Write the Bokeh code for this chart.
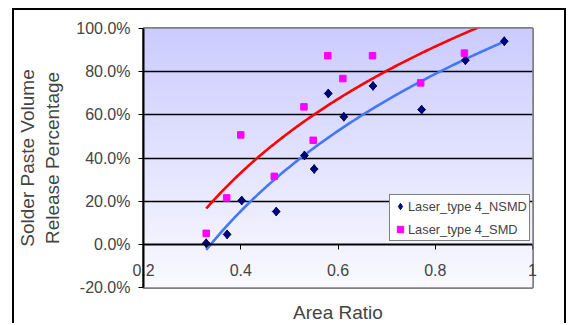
import numpy as np
from bokeh.plotting import figure
from bokeh.models import (FixedTicker, NumeralTickFormatter, Legend, LegendItem, LinearAxis)
from bokeh.embed import file_html
from bokeh.resources import INLINE

# ---- data ----
nsmd_area_ratio = [0.329, 0.372, 0.402, 0.473, 0.531, 0.551, 0.580, 0.612, 0.672, 0.772, 0.862, 0.942]
nsmd_release_pct = [0.5, 4.6, 20.3, 15.2, 41.2, 34.9, 69.9, 59.1, 73.4, 62.4, 85.3, 94.1]
smd_area_ratio = [0.329, 0.371, 0.400, 0.469, 0.530, 0.549, 0.579, 0.610, 0.671, 0.770, 0.860]
smd_release_pct = [5.1, 21.5, 50.7, 31.5, 63.7, 48.2, 87.4, 76.8, 87.4, 74.8, 88.6]
series_names = ["Laser_type 4_NSMD", "Laser_type 4_SMD"]
x_ticks = [0.2, 0.4, 0.6, 0.8, 1.0]
y_ticks_pct = [-20, 0, 20, 40, 60, 80, 100]
x_title = "Area Ratio"
y_title = "Solder Paste Volume\nRelease Percentage"

FONT = "Liberation Sans"

nsmd_y = [v / 100 for v in nsmd_release_pct]
smd_y = [v / 100 for v in smd_release_pct]

# chart area: black frame at left/top/right, placed by CSS margin + border
p = figure(width=554, height=315, output_backend="svg", toolbar_location=None,
           x_range=(0.2, 1.0), y_range=(-0.2, 1.0),
           min_border_left=128, min_border_right=36, min_border_top=18, min_border_bottom=37,
           background_fill_color="white", border_fill_color="white",
           margin=(8, 4, 0, 12),
           styles={"border-left": "2px solid black", "border-top": "2px solid black",
                   "border-right": "2px solid black", "border-bottom": "none"})

# gradient plot-area background
n = 120
top = np.array([204, 204, 255], dtype=float)
bot = np.array([250, 250, 255], dtype=float)
t = np.linspace(0, 1, n)[:, None]  # row 0 = bottom
cols = bot * (1 - t) + top * t
img = np.zeros((n, 1), dtype=np.uint32)
view = img.view(dtype=np.uint8).reshape((n, 1, 4))
view[:, 0, 0] = cols[:, 0]
view[:, 0, 1] = cols[:, 1]
view[:, 0, 2] = cols[:, 2]
view[:, 0, 3] = 255
p.image_rgba(image=[img], x=0.2, y=-0.2, dw=0.8, dh=1.2, level="image")

p.outline_line_color = "#808080"
p.outline_line_width = 3

# grid
p.xgrid.visible = False
p.ygrid.ticker = FixedTicker(ticks=[v / 100 for v in y_ticks_pct if 0 < v < 100])
p.ygrid.grid_line_color = "black"
p.ygrid.grid_line_width = 1.3

# y axis
ya = p.yaxis[0]
ya.ticker = FixedTicker(ticks=[v / 100 for v in y_ticks_pct])
ya.formatter = NumeralTickFormatter(format="0.0%")
ya.axis_label = y_title
ya.axis_label_text_font = FONT
ya.axis_label_text_font_size = "19px"
ya.axis_label_text_font_style = "normal"
ya.axis_label_standoff = 10
ya.axis_line_color = "black"
ya.axis_line_width = 2
ya.major_tick_out = 5
ya.major_tick_in = 0
ya.major_tick_line_color = "black"
ya.minor_tick_line_color = None
ya.major_label_text_font = FONT
ya.major_label_text_font_size = "16px"
ya.major_label_standoff = 8

# x axis line + ticks crossing at y = 0
xa = p.xaxis[0]
xa.fixed_location = 0
xa.ticker = FixedTicker(ticks=x_ticks)
xa.axis_label = None
xa.axis_line_color = "black"
xa.axis_line_width = 2
xa.major_tick_out = 5
xa.major_tick_in = 0
xa.minor_tick_line_color = None
xa.major_label_text_color = None

# x tick labels (just under the zero line) + axis title
xb = LinearAxis(ticker=FixedTicker(ticks=x_ticks),
                formatter=NumeralTickFormatter(format="0.[0]"),
                axis_line_color=None, major_tick_line_color=None,
                minor_tick_line_color=None, major_tick_out=0, major_tick_in=0,
                major_label_text_font=FONT, major_label_text_font_size="16px",
                major_label_standoff=-24,
                axis_label=x_title, axis_label_text_font=FONT,
                axis_label_text_font_size="19px", axis_label_text_font_style="normal",
                axis_label_standoff=23)
p.add_layout(xb, "below")

# trend lines (logarithmic least-squares fit of each series)
x_lo = min(nsmd_area_ratio + smd_area_ratio)
x_hi = max(nsmd_area_ratio + smd_area_ratio)
xx = np.linspace(x_lo, x_hi, 200)
a1, b1 = np.polyfit(np.log(nsmd_area_ratio), nsmd_y, 1)
a2, b2 = np.polyfit(np.log(smd_area_ratio), smd_y, 1)
p.line(xx, a2 * np.log(xx) + b2, line_color="#FF0000", line_width=2.6)
p.line(xx, a1 * np.log(xx) + b1, line_color="#4477FF", line_width=2.6)

# diamonds: a diamond glyph (also used as legend swatch) under a rotated square
r1_key = p.scatter(nsmd_area_ratio, nsmd_y, marker="diamond", size=9,
                   fill_color="#000080", line_color="#00105A", line_width=1)
r1 = p.scatter(nsmd_area_ratio, nsmd_y, marker="square", angle=np.pi / 4, size=5.6,
               fill_color="#000080", line_color="#00105A", line_width=1)
r2 = p.scatter(smd_area_ratio, smd_y, marker="square", size=6.5,
               fill_color="#FF00FF", line_color="#FF00FF", line_width=1)

legend = Legend(items=[LegendItem(label=series_names[0], renderers=[r1_key]),
                       LegendItem(label=series_names[1], renderers=[r2])],
                location=(246, 46), orientation="vertical",
                border_line_color="black", border_line_width=1,
                background_fill_color="white", background_fill_alpha=1,
                padding=2, spacing=5, margin=0,
                glyph_width=16, glyph_height=18, label_height=18, label_standoff=0,
                label_text_font=FONT, label_text_font_size="12.8px")
p.add_layout(legend)

open("out.html", "w").write(file_html(p, INLINE))
